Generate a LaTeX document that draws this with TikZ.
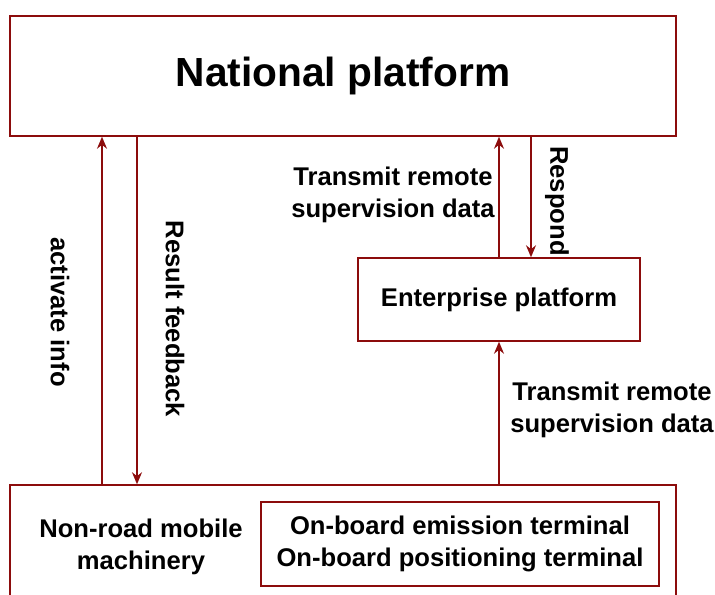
\documentclass[tikz,border=0pt]{standalone}
\usepackage{fontspec}
\setmainfont{Liberation Sans}
\usetikzlibrary{arrows.meta}
\definecolor{dred}{RGB}{140,12,12}
\tikzset{
  box/.style={draw=dred,line width=1.1pt,inner sep=0pt},
  lbl/.style={font=\fontsize{19.2}{23.5}\selectfont\bfseries,align=center},
  flow/.style={draw=dred,line width=1.1pt,-{Stealth[length=9pt,width=7.5pt]}}
}
\begin{document}
\begin{tikzpicture}[x=0.75pt,y=-0.75pt]
    \useasboundingbox(0,0)rectangle(715,595);
        \node(1)[box,minimum width=499.5pt,minimum height=90pt,font=\fontsize{30.5}{36}\selectfont\bfseries]at(343,76){National platform};
        \node(2)[box,minimum width=211.5pt,minimum height=62.25pt,lbl]at(499,299.5){Enterprise platform};
        \node(3)[box,minimum width=499.5pt,minimum height=90pt]at(343,545){};
        \node(4)[box,minimum width=298.5pt,minimum height=63pt,lbl]at(460,544){On-board emission terminal\\On-board positioning terminal};
        \node(5)[lbl]at(141,547){Non-road mobile\\machinery};
        \node(6)[lbl,rotate=-90]at(60,312){activate info};
        \node(7)[lbl,rotate=-90]at(175,319){Result feedback};
        \node(8)[lbl]at(393,195){Transmit remote\\supervision data};
        \node(9)[lbl,rotate=-90]at(557,201){Respond};
        \node(10)[lbl]at(612,410){Transmit remote\\supervision data};
        \draw[flow](102,0|-3.north)--(102,0|-1.south);
        \draw[flow](137,0|-1.south)--(137,0|-3.north);
        \draw[flow](499,0|-2.north)--(499,0|-1.south);
        \draw[flow](531,0|-1.south)--(531,0|-2.north);
        \draw[flow](499,0|-3.north)--(499,0|-2.south);
    \end{tikzpicture}
\end{document}
